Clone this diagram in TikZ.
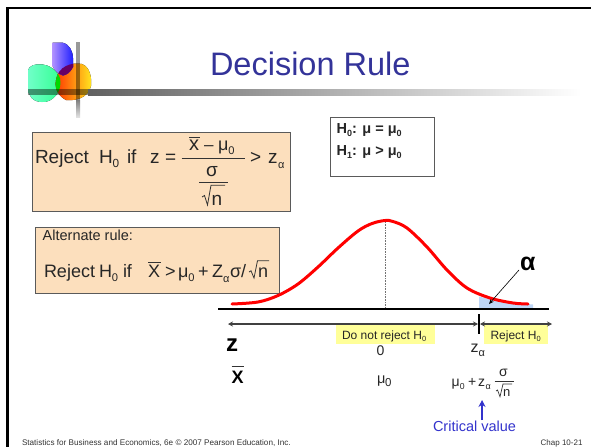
\documentclass[tikz,border=0pt]{standalone}
\usepackage{fontspec}
\setmainfont{Liberation Sans}
\usetikzlibrary{arrows.meta}
\definecolor{peach}{HTML}{FCDFBD}
\definecolor{boxline}{HTML}{5A5A5A}
\definecolor{titleblue}{HTML}{333399}
\definecolor{critblue}{HTML}{3333CC}
\definecolor{softyellow}{HTML}{FFFF99}
\definecolor{tailblue}{HTML}{BFD7F7}
\definecolor{mintL}{HTML}{70FFC8}
\definecolor{mintR}{HTML}{30FF90}
\definecolor{orL}{HTML}{FF3000}
\definecolor{orR}{HTML}{FFE820}
\definecolor{puL}{HTML}{B090FF}
\definecolor{puR}{HTML}{2020FF}
\newcommand{\fs}[1]{\fontsize{#1}{#1}\selectfont}
\newcommand{\zsub}[1]{\raisebox{-.22em}{\fontsize{.62em}{.62em}\selectfont #1}}
\tikzset{
  lbl/.style={inner sep=0pt,outer sep=0pt,anchor=base west,text=black!85},
  bar/.style={draw=black!80,line width=.8pt},
  radical/.style={draw=black!80,line width=.8pt,line join=miter},
  panel/.style={draw=boxline,line width=1pt,fill=peach},
  ynote/.style={fill=softyellow,draw=none}
}
\begin{document}
\begin{tikzpicture}[x=1pt,y=-1pt]
\useasboundingbox (0,0) rectangle (591,447);
% frame
\fill[black] (6,7.3) rectangle (591,9.4);
\fill[black] (6,7.3) rectangle (9.2,447);
% logo
\fill[left color=mintL,right color=mintR] (28,70) .. controls (30,62) and (52,60) .. (60,78) .. controls (63,92) and (52,103) .. (42,102) .. controls (33,102) and (28,96) .. (28,88) -- cycle;
\fill[left color=orL,right color=orR] (56,80) .. controls (58,66) and (72,62) .. (82,64) .. controls (90,67) and (92,78) .. (91,86) .. controls (88,98) and (76,101) .. (66,100) .. controls (60,97) and (54,90) .. (56,80) -- cycle;
\fill[left color=puL,right color=puR] (52.5,42.5) -- (62,42.5) .. controls (70,44) and (73,52) .. (73,58) -- (73,67) .. controls (70,73) and (66,75) .. (63,75.5) .. controls (58,74) and (54,70) .. (52.5,66) -- cycle;
\begin{scope}
\clip (52.5,42.5) -- (62,42.5) .. controls (70,44) and (73,52) .. (73,58) -- (73,67) .. controls (70,73) and (66,75) .. (63,75.5) .. controls (58,74) and (54,70) .. (52.5,66) -- cycle;
\fill[violet!80!black] (56,80) .. controls (58,66) and (72,62) .. (82,64) -- (82,90) -- (56,90) -- cycle;
\end{scope}
\begin{scope}
\clip (28,70) .. controls (30,62) and (52,60) .. (60,78) .. controls (63,92) and (52,103) .. (42,102) .. controls (33,102) and (28,96) .. (28,88) -- cycle;
\fill[green!85!black] (56,80) .. controls (58,66) and (70,62) .. (82,64) -- (82,100) -- (66,100) .. controls (60,97) and (54,90) .. (56,80) -- cycle;
\end{scope}
% logo bars
\fill[black,fill opacity=.4] (76,42) rectangle (80,100);
\shade[top color=black!50,bottom color=black!12] (76,100) rectangle (80,117);
\fill[black,fill opacity=.42] (28,89) rectangle (88,95);
\shade[left color=black!62,right color=white] (88,89) rectangle (581,95);
% title
\node[lbl,text=titleblue] (title) at (210,75.7) {\fs{32.5}Decision Rule};
% box 1
\node[panel,minimum width=258pt,minimum height=79pt,anchor=north west,inner sep=0pt] (boxA) at (32,132) {};
\node[lbl] (rejA) at (35,163) {\fs{19}Reject};
\node[lbl] (hA) at (99,163) {\fs{19}H\zsub{0}};
\node[lbl] (ifA) at (127,163) {\fs{19}if};
\node[lbl] (zA) at (150,163) {\fs{19}z};
\node[lbl] (eqA) at (165,163) {\fs{19}=};
\draw[bar] (181.7,158) -- (245,158);
\node[lbl] (xA) at (189,150.7) {\fs{20}x};
\draw[bar] (189,137) -- (200,137);
\node[lbl] (mnA) at (204,150.7) {\fs{17}–};
\node[lbl] (muA) at (218,150.7) {\fs{18}μ\zsub{0}};
\node[lbl,anchor=base] (sA) at (212,176) {\fs{19}σ};
\draw[bar] (199,182.3) -- (228,182.3);
\draw[radical] (202,197) -- (204.5,195.5) -- (207.5,205) -- (211,185.2) -- (225,185.2);
\node[lbl] (nA) at (211.5,205) {\fs{19}n};
\node[lbl] (gtA) at (250,163) {\fs{19}>};
\node[lbl] (zzA) at (268,163) {\fs{19}z};
\node[lbl] (alA) at (278,168) {\fs{11}α};
% box 2
\node[panel,minimum width=244pt,minimum height=66.5pt,anchor=north west,inner sep=0pt] (boxB) at (35,226.5) {};
\node[lbl] (altB) at (42.7,240.7) {\fs{14.5}Alternate rule:};
\node[lbl] (rejB) at (44,277.7) {\fs{18}Reject};
\node[lbl] (hB) at (99,277.7) {\fs{18}H\zsub{0}};
\node[lbl] (ifB) at (123,277.7) {\fs{18}if};
\node[lbl] (xB) at (148,277.7) {\fs{18}X};
\draw[bar] (148,262.7) -- (161,262.7);
\node[lbl] (gtB) at (165,277.7) {\fs{18}>};
\node[lbl] (muB) at (178,277.7) {\fs{18}μ\zsub{0}};
\node[lbl] (plB) at (198,277.7) {\fs{18}+};
\node[lbl] (ZB) at (212,277.7) {\fs{18}Z};
\node[lbl] (alB) at (223,282) {\fs{11}α};
\node[lbl] (sB) at (230,277.7) {\fs{18}σ/};
\draw[radical] (249,272) -- (251,270.8) -- (254,278) -- (257.5,260.7) -- (269,260.7);
\node[lbl] (nB) at (258,277.7) {\fs{18}n};
% hypothesis box
\node[draw=boxline,line width=1pt,fill=white,minimum width=104pt,minimum height=59pt,anchor=north west,inner sep=0pt] (boxH) at (330,117) {};
\node[lbl,font=\bfseries] (h0) at (336.7,133) {\fs{14.5}H\zsub{0}: μ = μ\zsub{0}};
\node[lbl,font=\bfseries] (h1) at (336.7,155) {\fs{14.5}H\zsub{1}: μ > μ\zsub{0}};
% tail
\fill[tailblue] (479,296.5) .. controls (495,301) and (515,303) .. (533,304.5) -- (533,308) -- (479,308) -- cycle;
% dotted mean
\coordinate (peak) at (385.5,222);
\coordinate (foot) at (385.5,308);
\draw[black!55,densely dotted,line width=.6pt] (peak) -- (foot);
% curve
\draw[red,line width=3pt,line cap=round] plot[smooth,tension=.55] coordinates {(232,304) (258,302) (278,295.5) (298,284) (318,267) (338,248) (358,231) (372,223.5) (385,220.5) (393,221.5) (407,228) (427,247) (447,270) (467,288) (490,298) (513,303) (528,304)};
% axis
\coordinate (axL) at (218,309);
\coordinate (axR) at (549,309);
\draw[black,line width=1.6pt] (axL) -- (axR);
% yellow notes
\node[ynote,minimum width=99pt,minimum height=19pt,anchor=north west,inner sep=0pt] (noA) at (336,325) {};
\node[ynote,minimum width=64pt,minimum height=19pt,anchor=north west,inner sep=0pt] (noB) at (484,325) {};
% range arrows
\coordinate (zl) at (228,324);
\coordinate (zm) at (479,324);
\coordinate (zr) at (552,324);
\draw[black!75,line width=1.2pt,{Stealth[length=5pt,width=5pt]}-{Stealth[length=5pt,width=5pt]}] (zl) -- ([xshift=-1pt]zm);
\draw[black!75,line width=1.2pt,{Stealth[length=5pt,width=5pt]}-{Stealth[length=5pt,width=5pt]}] ([xshift=1pt]zm) -- (zr);
\draw[black,line width=1.6pt] (479,314) -- (479,334);
\node[lbl] (tA) at (342,339) {\fs{12}Do not reject H\zsub{0}};
\node[lbl] (tB) at (490.5,339) {\fs{12}Reject H\zsub{0}};
% axis labels
\node[lbl,font=\bfseries,text=black] (zlab) at (226,351.7) {\fs{24}z};
\node[lbl,font=\bfseries,text=black] (xlab) at (231.7,383) {\fs{18}X};
\draw[black!80,line width=1pt] (231.5,366.7) -- (244,366.7);
\node[lbl] (zero) at (376.7,355) {\fs{14}0};
\node[lbl] (mu0) at (377,383) {\fs{14.5}μ};
\node[lbl] (mu0s) at (385,386) {\fs{11.5}0};
\node[lbl] (za) at (470.7,352.7) {\fs{16}z};
\node[lbl] (zas) at (478.5,356.7) {\fs{11}α};
\node[lbl] (fm) at (451.7,386.7) {\fs{14}μ\zsub{0}};
\node[lbl] (fp) at (468,386.7) {\fs{14}+};
\node[lbl] (fz) at (478,386.7) {\fs{14}z};
\node[lbl] (fa) at (485.5,389) {\fs{9}α};
\node[lbl,anchor=base] (fs) at (503.5,376) {\fs{14}σ};
\draw[bar] (494.5,381) -- (514,381);
\draw[radical,line width=.7pt] (496,391) -- (497.5,390) -- (500,396.7) -- (503,384) -- (512,384);
\node[lbl] (fn) at (503,396.7) {\fs{13}n};
% alpha
\node[lbl,font=\bfseries,text=black] (alpha) at (520,270.7) {\fs{25}α};
\coordinate (aS) at (519,270);
\coordinate (aT) at (489,304);
\draw[black,line width=.6pt,-{Stealth[length=5pt,width=4pt]}] (aS) -- (aT);
% critical value
\node[lbl,text=critblue] (crit) at (433,431.7) {\fs{14.5}Critical value};
\coordinate (cS) at (482,420);
\coordinate (cT) at (482,400);
\draw[critblue,line width=1.2pt,-{Stealth[length=7pt,width=7pt]}] (cS) -- (cT);
% footer
\node[lbl,text=black!80] (foot1) at (22,445) {\fs{8.15}Statistics for Business and Economics, 6e © 2007 Pearson Education, Inc.};
\node[lbl,text=black!80] (foot2) at (540.7,445) {\fs{8}Chap 10-21};
\end{tikzpicture}
\end{document}
